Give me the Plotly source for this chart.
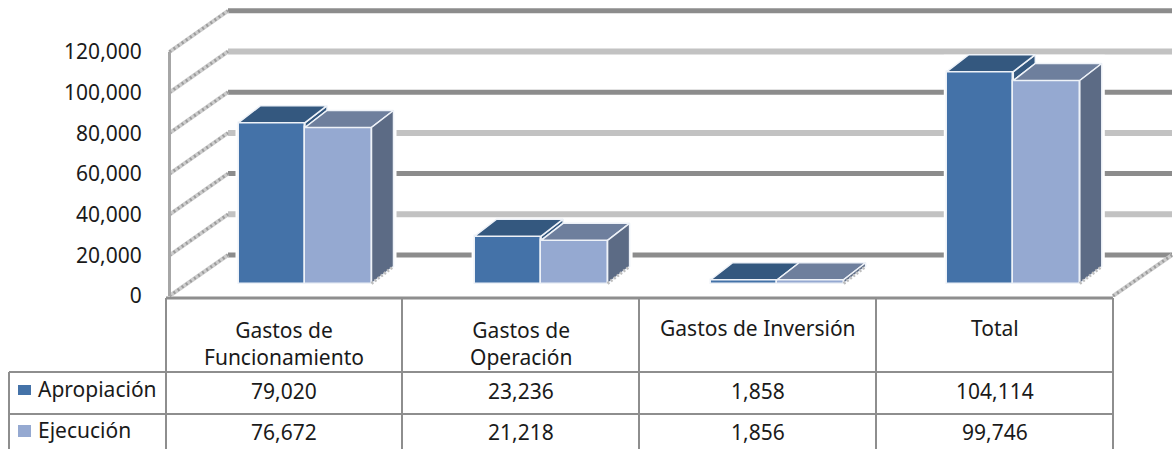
import plotly.graph_objects as go

# ---- data ----
categories = ["Gastos de<br>Funcionamiento", "Gastos de<br>Operación", "Gastos de Inversión", "Total"]
apropiacion = [79020, 23236, 1858, 104114]
ejecucion = [76672, 21218, 1856, 99746]
series_names = ["Apropiación", "Ejecución"]
tick_values = [0, 20000, 40000, 60000, 80000, 100000, 120000]

# ---- style / layout constants ----
W, H = 1174, 449
FONT = "Noto Sans"
FS = 21
TEXT = "#1a1a1a"
C_A, C_A_TOP = "#4472A8", "#34587F"
C_E, C_E_TOP = "#95A9D1", "#6E7F9D"
C_SIDE = "#5C6B85"
EDGE = "#EEF2F8"
GRID_DARK, GRID_LIGHT = "#8C8C8C", "#C2C2C2"
TABLE = "#8E8E8E"

PLOT_L, PLOT_B = 166, 297          # pixel position of the plot area edge
PX_PER_VAL = 40.7 / 20000          # vertical scale
PX_PER_CAT = 236.1                 # horizontal scale
GROUP0_PX = 305                    # centre of first bar group
ZERO_PX = 296
x_left = -(GROUP0_PX - PLOT_L) / PX_PER_CAT
x_right = x_left + (W - PLOT_L) / PX_PER_CAT
y_top = ZERO_PX / PX_PER_VAL
y_bottom = -(PLOT_B - ZERO_PX) / PX_PER_VAL


def ux(px):
    return x_left + (px - PLOT_L) / PX_PER_CAT


def dxv(px):
    return px / PX_PER_CAT


def dyv(px):
    return px / PX_PER_VAL


BAR_W = 66.5 / PX_PER_CAT
BASE = dyv(12.5)
D_X, D_Y = dxv(22), dyv(17)
WALL_Y = dyv(41)
FRONT_L, WALL_L, WALL_R, FRONT_R = ux(169.5), ux(228), ux(1172), ux(1113)

fig = go.Figure()
idx = list(range(len(categories)))


def poly(xs, ys, color, line=EDGE):
    fig.add_trace(go.Scatter(x=xs, y=ys, mode="lines", fill="toself", fillcolor=color,
                             line=dict(color=line, width=1.5), hoverinfo="skip", showlegend=False))


# front faces
fig.add_trace(go.Bar(x=[i - BAR_W / 2 for i in idx], y=apropiacion, base=BASE, width=BAR_W, name=series_names[0],
                     marker=dict(color=C_A, line=dict(color=EDGE, width=1.5)), showlegend=False))
fig.add_trace(go.Bar(x=[i + BAR_W / 2 for i in idx], y=ejecucion, base=BASE, width=BAR_W, name=series_names[1],
                     marker=dict(color=C_E, line=dict(color=EDGE, width=1.5)), showlegend=False))

# top and side faces
for i, va, ve in zip(idx, apropiacion, ejecucion):
    x0, xm, x1 = i - BAR_W, i, i + BAR_W
    ta, te = va + BASE, ve + BASE
    # right side of the first bar, only the part rising above the second bar
    poly([xm, xm, xm + D_X, xm + D_X, xm], [te, ta, ta + D_Y, te + D_Y, te], C_A_TOP)
    poly([x0, xm, xm + D_X, x0 + D_X, x0], [ta, ta, ta + D_Y, ta + D_Y, ta], C_A_TOP)
    poly([xm, x1, x1 + D_X, xm + D_X, xm], [te, te, te + D_Y, te + D_Y, te], C_E_TOP)
    poly([x1, x1 + D_X, x1 + D_X, x1, x1], [BASE, BASE + D_Y, te + D_Y, te, BASE], C_SIDE)
    fig.add_trace(go.Scatter(x=[x1, x1 + D_X], y=[BASE, BASE + D_Y], mode="lines", hoverinfo="skip", showlegend=False,
                             line=dict(color="#BDBDBD", width=3, dash="2px,2px")))

shapes = []


def seg(x0, y0, x1, y1, color, width, dash="solid", xref="x", yref="y"):
    shapes.append(dict(type="line", xref=xref, yref=yref, x0=x0, y0=y0, x1=x1, y1=y1,
                       layer="below", line=dict(color=color, width=width, dash=dash)))


# back wall grid lines and their diagonals on the side wall
for k, v in enumerate(tick_values):
    dark = k % 2 == 0
    seg(WALL_L, v + WALL_Y, WALL_R, v + WALL_Y, GRID_DARK if dark else GRID_LIGHT, 5 if dark else 6)
    seg(FRONT_L, v, WALL_L, v + WALL_Y, "#CDCDCD", 4)
    seg(FRONT_L, v, WALL_L, v + WALL_Y, "#9C9C9C", 3, "2px,3px")
seg(FRONT_R, 0, WALL_R, WALL_Y, "#CDCDCD", 4)
seg(FRONT_R, 0, WALL_R, WALL_Y, "#9C9C9C", 3, "2px,3px")
seg(FRONT_L, 0, FRONT_L, tick_values[-1], "#A6A6A6", 3)

# white halo that interrupts the grid lines around each bar group
for i, va, ve in zip(idx, apropiacion, ejecucion):
    shapes.append(dict(type="rect", xref="x", yref="y", layer="below",
                       x0=i - BAR_W - dxv(3), x1=i + BAR_W + D_X + dxv(3),
                       y0=BASE, y1=max(va, ve) + BASE + D_Y,
                       fillcolor="white", line=dict(width=0)))


# data table (pixel positions converted to paper coordinates)
def px(v):
    return (v - PLOT_L) / (W - PLOT_L)


def py(v):
    return (PLOT_B - v) / PLOT_B


for xv, top in [(9, 372), (166, 298), (402, 298), (639, 298), (876, 298), (1113, 298)]:
    seg(px(xv), py(top), px(xv), py(449), TABLE, 2, xref="paper", yref="paper")
for yv, left in [(298, 166), (372, 9), (414, 9)]:
    seg(px(left), py(yv), px(1113), py(yv), TABLE, 3 if yv == 298 else 2, xref="paper", yref="paper")

annotations = []


def label(xv, yv, text, anchor="center"):
    annotations.append(dict(xref="paper", yref="paper", x=px(xv), y=py(yv), text=text, showarrow=False,
                            xanchor=anchor, yanchor="middle", align="center",
                            font=dict(family=FONT, size=FS, color=TEXT)))


centers = [284, 520.5, 757.5, 994.5]
for c, name, a, e in zip(centers, categories, apropiacion, ejecucion):
    label(c, 328 + (15 if "<br>" in name else 0), name)
    label(c, 391, f"{a:,}")
    label(c, 432, f"{e:,}")
label(36, 389, series_names[0], "left")
label(36, 430, series_names[1], "left")
for (y0, y1), col in zip([(385, 395), (425, 437)], [C_A, C_E]):
    shapes.append(dict(type="rect", xref="paper", yref="paper", x0=px(18), x1=px(31), y0=py(y1), y1=py(y0),
                       fillcolor=col, line=dict(width=0)))

fig.update_layout(
    width=W, height=H, autosize=False,
    margin=dict(l=PLOT_L, r=0, t=0, b=H - PLOT_B, pad=0),
    paper_bgcolor="white", plot_bgcolor="white",
    barmode="overlay", bargap=0, showlegend=False,
    font=dict(family=FONT, size=FS, color=TEXT),
    shapes=shapes, annotations=annotations,
    xaxis=dict(range=[x_left, x_right], visible=False, fixedrange=True),
    yaxis=dict(range=[y_bottom, y_top], tickvals=tick_values, tickformat=",", showgrid=False, zeroline=False,
               showline=False, ticks="outside", ticklen=19, tickcolor="rgba(0,0,0,0)",
               tickfont=dict(family=FONT, size=FS, color=TEXT), fixedrange=True),
)
fig.write_html("out.html", config=dict(displayModeBar=False),
               post_script="document.body.style.margin='0';document.body.style.overflow='hidden';")
